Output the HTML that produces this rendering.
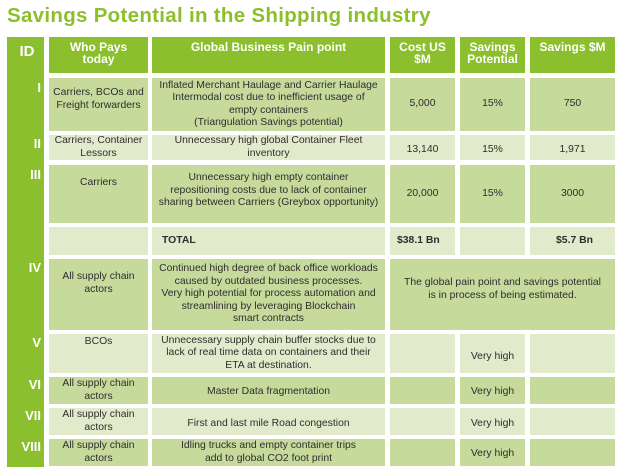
<!DOCTYPE html>
<html><head><meta charset="utf-8"><style>
body{margin:0;width:624px;height:474px;background:#fff;position:relative;overflow:hidden;font-family:"Liberation Sans",sans-serif;}
.t{position:absolute;left:7px;top:4px;font-size:20.5px;font-weight:bold;color:#8cbf2a;letter-spacing:0.3px;white-space:nowrap}
.c{position:absolute;display:flex;align-items:center;justify-content:center;text-align:center;font-size:10.4px;line-height:12.5px;color:#2e2e2e;box-sizing:border-box;white-space:nowrap}
.h{background:#8cbf2e;color:#fff;font-weight:bold;font-size:12px;line-height:12px;align-items:flex-start;padding-top:4px}
.d{background:#c6da9c}
.l{background:#e1eacb}
.band{position:absolute;left:7px;top:37px;width:37px;height:430px;background:#8cbf2e}
.id{position:absolute;left:7px;width:34px;text-align:right;color:#fff;font-weight:bold;font-size:13px}
.b{font-weight:bold}
</style></head><body>
<div class="t">Savings Potential in the Shipping industry</div>
<div class="band"></div>
<div class="id" style="left:10px;top:43px;text-align:center;font-size:15px;width:34px">ID</div>
<div class="id" style="top:80px">I</div>
<div class="id" style="top:136px">II</div>
<div class="id" style="top:167px">III</div>
<div class="id" style="top:260px">IV</div>
<div class="id" style="top:335px">V</div>
<div class="id" style="top:377px">VI</div>
<div class="id" style="top:408px">VII</div>
<div class="id" style="top:439px">VIII</div>

<div class="c h" style="left:49px;top:37px;width:99px;height:36px">Who Pays<br>today</div>
<div class="c h" style="left:152px;top:37px;width:233px;height:36px">Global Business Pain point</div>
<div class="c h" style="left:390px;top:37px;width:65px;height:36px">Cost US<br>$M</div>
<div class="c h" style="left:460px;top:37px;width:65px;height:36px">Savings<br>Potential</div>
<div class="c h" style="left:530px;top:37px;width:85px;height:36px">Savings $M</div>

<div class="c d" style="left:49px;top:78px;width:99px;height:53px;align-items:flex-start;padding-top:9px">Carriers, BCOs and<br>Freight forwarders</div>
<div class="c d" style="left:152px;top:78px;width:233px;height:53px">Inflated Merchant Haulage and Carrier Haulage<br>Intermodal cost due to inefficient usage of<br>empty containers<br>(Triangulation Savings potential)</div>
<div class="c d" style="left:390px;top:78px;width:65px;height:53px">5,000</div>
<div class="c d" style="left:460px;top:78px;width:65px;height:53px">15%</div>
<div class="c d" style="left:530px;top:78px;width:85px;height:53px">750</div>

<div class="c l" style="left:49px;top:135px;width:99px;height:25px">Carriers, Container<br>Lessors</div>
<div class="c l" style="left:152px;top:135px;width:233px;height:25px">Unnecessary high global Container Fleet<br>inventory</div>
<div class="c l" style="left:390px;top:135px;width:65px;height:25px;padding-top:5px">13,140</div>
<div class="c l" style="left:460px;top:135px;width:65px;height:25px;padding-top:5px">15%</div>
<div class="c l" style="left:530px;top:135px;width:85px;height:25px;padding-top:5px">1,971</div>

<div class="c d" style="left:49px;top:165px;width:99px;height:58px;align-items:flex-start;padding-top:12px">Carriers</div>
<div class="c d" style="left:152px;top:165px;width:233px;height:58px;align-items:flex-start;padding-top:7px">Unnecessary high empty container<br>repositioning costs due to lack of container<br>sharing between Carriers (Greybox opportunity)</div>
<div class="c d" style="left:390px;top:165px;width:65px;height:58px">20,000</div>
<div class="c d" style="left:460px;top:165px;width:65px;height:58px">15%</div>
<div class="c d" style="left:530px;top:165px;width:85px;height:58px">3000</div>

<div class="c l" style="left:49px;top:227px;width:99px;height:28px"></div>
<div class="c l b" style="left:152px;top:227px;width:233px;height:28px;justify-content:flex-start;padding-left:10px">TOTAL</div>
<div class="c l b" style="left:390px;top:227px;width:65px;height:28px;justify-content:flex-start;padding-left:7px">$38.1 Bn</div>
<div class="c l" style="left:460px;top:227px;width:65px;height:28px"></div>
<div class="c l b" style="left:530px;top:227px;width:85px;height:28px;justify-content:flex-end;padding-right:22px">$5.7 Bn</div>

<div class="c d" style="left:49px;top:259px;width:99px;height:71px;align-items:flex-start;padding-top:12px">All supply chain<br>actors</div>
<div class="c d" style="left:152px;top:259px;width:233px;height:71px">Continued high degree of back office workloads<br>caused by outdated business processes.<br>Very high potential for process automation and<br>streamlining by leveraging Blockchain<br>smart contracts</div>
<div class="c d" style="left:390px;top:259px;width:225px;height:71px;align-items:flex-start;padding-top:18px">The global pain point and savings potential<br>is in process of being estimated.</div>

<div class="c l" style="left:49px;top:334px;width:99px;height:39px;align-items:flex-start;padding-top:2px">BCOs</div>
<div class="c l" style="left:152px;top:334px;width:233px;height:39px">Unnecessary supply chain buffer stocks due to<br>lack of real time data on containers and their<br>ETA at destination.</div>
<div class="c l" style="left:390px;top:334px;width:65px;height:39px"></div>
<div class="c l" style="left:460px;top:334px;width:65px;height:39px;padding-top:8px">Very high</div>
<div class="c l" style="left:530px;top:334px;width:85px;height:39px"></div>

<div class="c d" style="left:49px;top:377px;width:99px;height:27px">All supply chain<br>actors</div>
<div class="c d" style="left:152px;top:377px;width:233px;height:27px;padding-top:4px">Master Data fragmentation</div>
<div class="c d" style="left:390px;top:377px;width:65px;height:27px"></div>
<div class="c d" style="left:460px;top:377px;width:65px;height:27px;padding-top:4px">Very high</div>
<div class="c d" style="left:530px;top:377px;width:85px;height:27px"></div>

<div class="c l" style="left:49px;top:408px;width:99px;height:27px">All supply chain<br>actors</div>
<div class="c l" style="left:152px;top:408px;width:233px;height:27px;padding-top:6px">First and last mile Road congestion</div>
<div class="c l" style="left:390px;top:408px;width:65px;height:27px"></div>
<div class="c l" style="left:460px;top:408px;width:65px;height:27px;padding-top:6px">Very high</div>
<div class="c l" style="left:530px;top:408px;width:85px;height:27px"></div>

<div class="c d" style="left:49px;top:439px;width:99px;height:27px">All supply chain<br>actors</div>
<div class="c d" style="left:152px;top:439px;width:233px;height:27px">Idling trucks and empty container trips<br>add to global CO2 foot print</div>
<div class="c d" style="left:390px;top:439px;width:65px;height:27px"></div>
<div class="c d" style="left:460px;top:439px;width:65px;height:27px;padding-top:4px">Very high</div>
<div class="c d" style="left:530px;top:439px;width:85px;height:27px"></div>
</body></html>
